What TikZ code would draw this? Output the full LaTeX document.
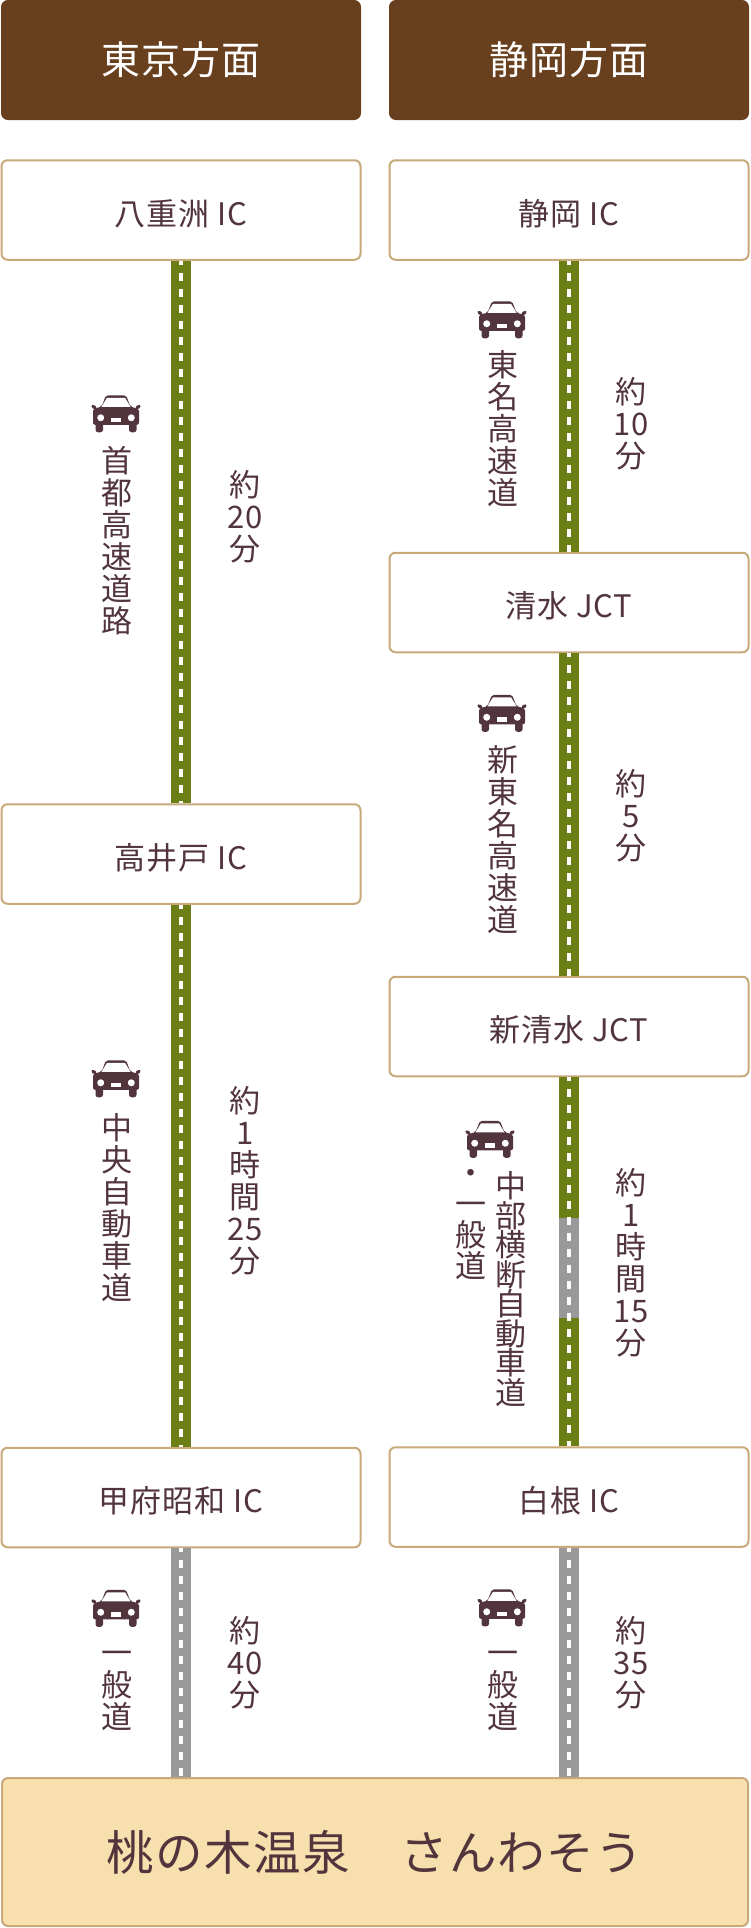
\documentclass[tikz,border=0pt]{standalone}
\usepackage{fontspec}
\setmainfont{Noto Sans CJK JP}[LetterSpace=3]
\usepackage{xcolor}
\usepackage{tikz}
\usetikzlibrary{positioning}
\definecolor{headbrown}{HTML}{69401E}
\definecolor{edgetan}{HTML}{C8A97A}
\definecolor{inkbrown}{HTML}{51343C}
\definecolor{cream}{HTML}{F7E0AE}
\definecolor{roadgreen}{HTML}{6B7F16}
\definecolor{roadgray}{HTML}{999999}

\begin{document}
\begin{tikzpicture}[
    x=1pt, y=-1pt,
    basebox/.style={rectangle, rounded corners=6pt, line width=2pt, minimum width=359pt, minimum height=99.5pt, inner sep=0pt},
    headbox/.style={basebox, draw=headbrown, fill=headbrown, text=white, minimum width=358pt, minimum height=118pt, font=\fontsize{39}{39}\selectfont},
    icbox/.style={basebox, draw=edgetan, fill=white, text=inkbrown, text height=30pt, text depth=0pt, font=\fontsize{31}{31}\selectfont},
    endbox/.style={basebox, draw=edgetan, fill=cream, text=inkbrown, minimum width=746pt, minimum height=148pt, font=\fontsize{47.5}{47.5}\selectfont},
    vtext/.style={align=center, inner sep=0pt, text=inkbrown, font=\fontsize{31}{32}\selectfont},
    tighttext/.style={vtext, font=\fontsize{31}{29.5}\selectfont},
    roadbed/.style={line width=20pt},
    roadline/.style={draw=white, line width=4pt, dash pattern=on 8pt off 8pt, dash phase=4pt},
    greenroad/.style={roadbed, draw=roadgreen, postaction={roadline}},
    grayroad/.style={roadbed, draw=roadgray, postaction={roadline}},
    car/.pic={
        \fill[inkbrown, rounded corners=2pt] (-23,-5) -- (-14.5,-7) -- (-10,-18.5) -- (10,-18.5) -- (14.5,-7) -- (23,-5) -- (23,11) -- (-23,11) -- cycle;
        \fill[inkbrown, rounded corners=1pt] (-24.5,-9) -- (-20,-8) -- (-20,-4.5) -- (-24,-5.5) -- cycle;
        \fill[inkbrown, rounded corners=1pt] (24.5,-9) -- (20,-8) -- (20,-4.5) -- (24,-5.5) -- cycle;
        \fill[inkbrown, rounded corners=2.5pt] (-20.5,9) rectangle (-13,18.5);
        \fill[inkbrown, rounded corners=2.5pt] (13,9) rectangle (20.5,18.5);
        \fill[white] (-14.5,-7) -- (-9,-16) -- (9,-16) -- (14.5,-7) -- cycle;
        \fill[white] (-15.3,4) circle (3.5);
        \fill[white] (15.3,4) circle (3.5);
        \fill[white] (-5.3,4) rectangle (5.3,8.7);
    },
    ]

    % left column
    \node[headbox] (tokyo) at (181,60) {東京方面};
    \node[icbox] (yaesu) [below=39.25pt of tokyo] {八重洲 IC};
    \node[icbox] (takaido) [below=542.5pt of yaesu] {高井戸 IC};
    \node[icbox] (kofu) [below=542pt of takaido] {甲府昭和 IC};

    % right column
    \node[headbox] (shizuoka) [right=28pt of tokyo] {静岡方面};
    \node[icbox] (shizuokaic) [below=39.25pt of shizuoka] {静岡 IC};
    \node[icbox] (shimizu) [below=291pt of shizuokaic] {清水 JCT};
    \node[icbox] (shinshimizu) [below=322.5pt of shimizu] {新清水 JCT};
    \node[icbox] (shirane) [below=369pt of shinshimizu] {白根 IC};

    \node[endbox] (onsen) at (375,1852) {桃の木温泉　さんわそう};

    % roads
    \draw[greenroad] (yaesu.south) -- (takaido.north);
    \draw[greenroad] (takaido.south) -- (kofu.north);
    \draw[grayroad] (kofu.south) -- (kofu.south |- onsen.north);
    \draw[greenroad] (shizuokaic.south) -- (shimizu.north);
    \draw[greenroad] (shimizu.south) -- (shinshimizu.north);
    \coordinate[below=141pt of shinshimizu.south] (graytop);
    \coordinate[below=100pt of graytop] (graybottom);
    \draw[roadbed, draw=roadgreen] (shinshimizu.south) -- (graytop);
    \draw[roadbed, draw=roadgray] (graytop) -- (graybottom);
    \draw[roadbed, draw=roadgreen] (graybottom) -- (shirane.north);
    \draw[roadline] (shinshimizu.south) -- (shirane.north);
    \draw[grayroad] (shirane.south) -- (shirane.south |- onsen.north);

    % cars
    \coordinate[below=153pt of yaesu.south, xshift=-65pt] (car1);
    \coordinate[below=174pt of takaido.south, xshift=-65pt] (car2);
    \coordinate[below=60pt of kofu.south, xshift=-65pt] (car3);
    \coordinate[below=59pt of shizuokaic.south, xshift=-67pt] (car4);
    \coordinate[below=60pt of shimizu.south, xshift=-67pt] (car5);
    \coordinate[below=62pt of shinshimizu.south, xshift=-79pt] (car6);
    \coordinate[below=60pt of shirane.south, xshift=-67pt] (car7);
    \pic at (car1) {car};
    \pic at (car2) {car};
    \pic at (car3) {car};
    \pic at (car4) {car};
    \pic at (car5) {car};
    \pic at (car6) {car};
    \pic at (car7) {car};

    % road names
    \node[vtext] (name1) [below=32pt of car1, xshift=1pt] {首\\都\\高\\速\\道\\路};
    \node[vtext] (name2) [below=34pt of car2, xshift=1pt] {中\\央\\自\\動\\車\\道};
    \node[vtext] (name3) [below=43pt of car3, xshift=1pt] {一\\般\\道};
    \node[vtext] (name4) [below=31pt of car4, xshift=1pt] {東\\名\\高\\速\\道};
    \node[vtext] (name5) [below=32pt of car5, xshift=1pt] {新\\東\\名\\高\\速\\道};
    \node[tighttext] (name6) [below=32pt of car6, xshift=21pt] {中\\部\\横\\断\\自\\動\\車\\道};
    \node[tighttext, font=\fontsize{31}{31}\selectfont] (name7) [below=30pt of car6, xshift=-19pt] {・\\一\\般\\道};
    \node[vtext] (name8) [below=43pt of car7, xshift=1pt] {一\\般\\道};

    % times
    \node[vtext] (time1) [below=209pt of yaesu.south, xshift=64pt] {約\\20\\分};
    \node[vtext] (time2) [below=181pt of takaido.south, xshift=64pt] {約\\1\\時\\間\\25\\分};
    \node[vtext] (time3) [below=68pt of kofu.south, xshift=64pt] {約\\40\\分};
    \node[vtext] (time4) [below=116pt of shizuokaic.south, xshift=62pt] {約\\10\\分};
    \node[vtext] (time5) [below=116pt of shimizu.south, xshift=62pt] {約\\5\\分};
    \node[vtext] (time6) [below=91pt of shinshimizu.south, xshift=62pt] {約\\1\\時\\間\\15\\分};
    \node[vtext] (time7) [below=68pt of shirane.south, xshift=62pt] {約\\35\\分};

    \useasboundingbox (0,0) rectangle (750,1928);
\end{tikzpicture}
\end{document}
